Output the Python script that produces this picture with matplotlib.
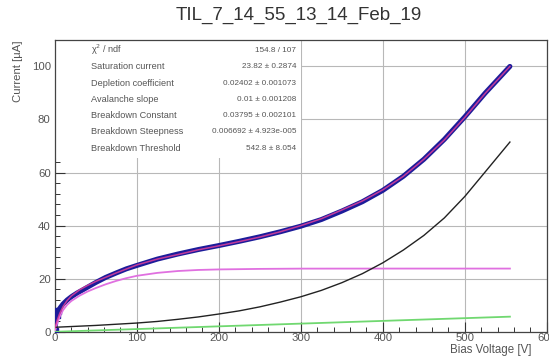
import matplotlib.pyplot as plt
from matplotlib.patches import Rectangle
from matplotlib.ticker import MultipleLocator

plt.rcParams['font.family'] = ['Liberation Sans', 'DejaVu Sans']

v_data = [0, 2, 4, 7, 10, 15, 20, 27, 34, 42, 50, 62, 75, 87, 100, 125, 150, 175, 200,
          225, 250, 275, 300, 325, 350, 375, 400, 425, 450, 475, 500, 525, 555]
i_data = [0.2, 6.5, 8.0, 9.3, 10.5, 12.0, 13.2, 14.6, 15.8, 17.2, 18.6, 20.5, 22.2, 23.7, 25.0,
          27.4, 29.3, 31.0, 32.5, 34.1, 35.8, 37.7, 39.8, 42.3, 45.5, 49.0, 53.3, 58.6, 65.0,
          72.5, 81.0, 90.0, 100.0]

# Total fit
v_fit = [0, 3, 6, 10, 15, 20, 30, 40, 50, 75, 100, 125, 150, 175, 200, 225, 250, 275, 300,
         325, 350, 375, 400, 425, 450, 475, 500, 525, 555]
i_fit = [1.5, 4.5, 7.0, 9.5, 11.8, 13.5, 15.8, 17.5, 19.0, 22.2, 25.2, 27.4, 29.1, 30.9, 32.4,
         34.0, 35.7, 37.7, 40.0, 42.6, 45.9, 49.3, 53.5, 58.6, 65.0, 72.3, 80.8, 89.9, 100.0]

# Saturation component
v_sat = [0, 3, 6, 10, 15, 20, 30, 40, 50, 62, 75, 87, 100, 125, 150, 175, 200, 250, 300, 400, 555]
i_sat = [0.0, 3.5, 5.8, 8.2, 10.2, 11.6, 13.6, 15.2, 16.5, 17.9, 19.2, 20.2, 21.1, 22.2, 22.9,
         23.3, 23.5, 23.7, 23.8, 23.82, 23.82]

# Avalanche component
v_av = [0, 50, 100, 125, 150, 175, 200, 225, 250, 275, 300, 325, 350, 375, 400, 425, 450,
        475, 500, 525, 555]
i_av = [1.7, 2.4, 3.3, 3.9, 4.7, 5.6, 6.7, 7.9, 9.4, 11.2, 13.2, 15.6, 18.5, 21.9, 26.0, 30.8,
        36.3, 42.9, 51.0, 60.3, 71.5]

# Linear component
v_lin = [0, 555]
i_lin = [0.0, 5.7]

stat_names = ['χ$^2$ / ndf', 'Saturation current', 'Depletion coefficient', 'Avalanche slope',
              'Breakdown Constant', 'Breakdown Steepness', 'Breakdown Threshold']
stat_values = ['154.8 / 107', '23.82 ± 0.2874', '0.02402 ± 0.001073', '0.01 ± 0.001208',
               '0.03795 ± 0.002101', '0.006692 ± 4.923e-005', '542.8 ± 8.054']

fig = plt.figure(figsize=(5.49, 3.56), dpi=100)
ax = fig.add_axes([0.100, 0.068, 0.896, 0.820])

ax.plot(v_data, i_data, '-', color='#1c1c9a', lw=3.6, zorder=3, solid_capstyle='round')
ax.plot(v_data[:3], i_data[:3], 's', color='#1c1c9a', ms=4, zorder=3)
ax.plot(v_fit, i_fit, '-', color='#e0409a', lw=1.1, alpha=0.85, zorder=4)
ax.plot(v_sat, i_sat, '-', color='#e070e0', lw=1.3, zorder=3)
ax.plot(v_av, i_av, '-', color='#222222', lw=1.0, zorder=3)
ax.plot(v_lin, i_lin, '-', color='#70d870', lw=1.3, zorder=3)

ax.set_xlim(0, 600)
ax.set_ylim(0, 110)
ax.xaxis.set_major_locator(MultipleLocator(100))
ax.xaxis.set_minor_locator(MultipleLocator(20))
ax.yaxis.set_major_locator(MultipleLocator(20))
ax.yaxis.set_minor_locator(MultipleLocator(4))
ax.tick_params(which='both', direction='in', labelsize=8.2, colors='#333333', labelcolor='#555555')
ax.tick_params(which='major', length=7, width=0.8)
ax.tick_params(which='minor', length=3.5, width=0.7)
ax.tick_params(axis='x', pad=1)
ax.tick_params(axis='y', pad=3)
ax.grid(True, which='major', color='#b8b8b8', lw=0.8)
for s in ax.spines.values():
    s.set_color('#444444')
    s.set_linewidth(0.9)

# stats box
ax.add_patch(Rectangle((0.003, 0.596), 0.497, 0.400, transform=ax.transAxes,
                       facecolor='white', edgecolor='none', zorder=2))
row_y = [50, 66.7, 83.3, 99.5, 115.7, 131.7, 148.3]
for name, val, y in zip(stat_names, stat_values, row_y):
    fy = 1 - y / 356
    fig.text(91 / 549, fy, name, fontsize=6.6, color='#555555', va='center', ha='left')
    fig.text(296 / 549, fy, val, fontsize=5.9, color='#555555', va='center', ha='right')

fig.text(299 / 549, 1 - 15 / 356, 'TIL_7_14_55_13_14_Feb_19', fontsize=13.5, color='#333333',
         ha='center', va='center')
fig.text(450 / 549, 1 - 355.5 / 356, 'Bias Voltage [V]', fontsize=8.3, color='#555555',
         ha='left', va='bottom')
fig.text(18 / 549, 1 - 40 / 356, 'Current [µA]', fontsize=8.2, color='#555555',
         ha='center', va='top', rotation=90)

fig.savefig('out.png', dpi=100)
